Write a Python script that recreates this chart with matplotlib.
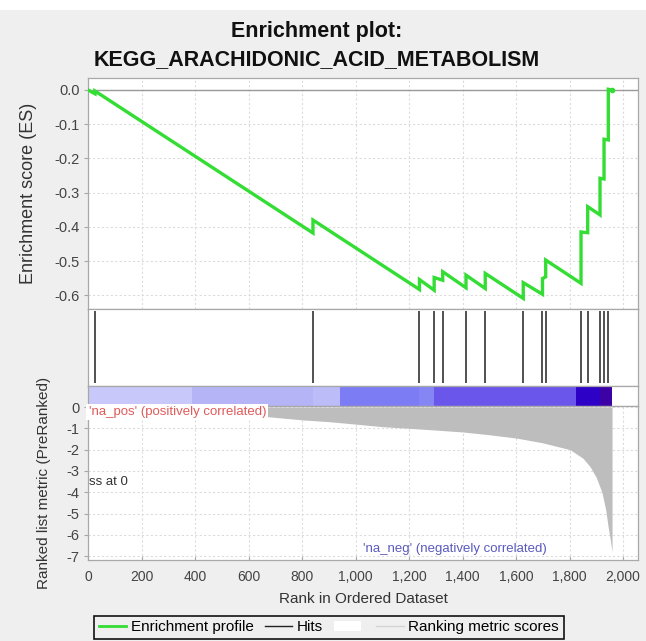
import matplotlib.pyplot as plt
from matplotlib.lines import Line2D
from matplotlib.patches import Patch, Rectangle
from matplotlib.ticker import FuncFormatter

plt.rcParams["font.family"] = ["Liberation Sans", "DejaVu Sans"]
plt.rcParams["axes.unicode_minus"] = False

title_top = "Enrichment plot:"
title_bottom = "KEGG_ARACHIDONIC_ACID_METABOLISM"

# hits of the gene set in the ranked list, with ES just before / after each hit
hit_ranks = [26, 841, 1239, 1294, 1326, 1413, 1485, 1627, 1699, 1711,
             1843, 1868, 1914, 1929, 1945]
es_before_hit = [-0.011, -0.418, -0.583, -0.585, -0.556, -0.578, -0.580,
                 -0.609, -0.597, -0.546, -0.565, -0.417, -0.365, -0.260, -0.146]
es_after_hit = [-0.003, -0.380, -0.554, -0.548, -0.531, -0.541, -0.536,
                -0.563, -0.551, -0.497, -0.415, -0.341, -0.258, -0.144, 0.002]
last_rank = 1959
es_last = 0.0

# ranked list metric (all below zero)
metric_ranks = [0, 300, 670, 800, 905, 1000, 1100, 1204, 1300, 1402, 1500,
                1604, 1700, 1802, 1850, 1877, 1900, 1921, 1935, 1944, 1952, 1959]
metric_values = [-0.2, -0.3, -0.45, -0.6, -0.69, -0.8, -0.92, -1.0, -1.08,
                 -1.17, -1.3, -1.46, -1.68, -2.0, -2.4, -2.8, -3.3, -4.0,
                 -4.8, -5.6, -6.2, -6.8]

# colour band boundaries along the ranked list
band_edges = [0, 388, 841, 942, 1239, 1294, 1823, 1914, 1959]
band_colors = ["#c8c8fa", "#b4b4f7", "#bcbcf8", "#7c7cf4", "#8585f3",
               "#6a56ea", "#2e02c6", "#3c02a6"]

x_ticks = list(range(0, 2001, 200))
es_ticks = [0.0, -0.1, -0.2, -0.3, -0.4, -0.5, -0.6]
metric_ticks = [0, -1, -2, -3, -4, -5, -6, -7]

bg = "#efefef"
spine_col = "#a8a8a8"
grid_col = "#dcdcdc"
tick_col = "#444444"

fig = plt.figure(figsize=(6.46, 6.41), dpi=100, facecolor=bg)
fig.patches.append(Rectangle((0, 1 - 10 / 641), 1, 10 / 641, transform=fig.transFigure,
                             facecolor="white", edgecolor="none", zorder=0))

left, width = 88 / 646, 550 / 646
ax_es = fig.add_axes([left, 332 / 641, width, 231 / 641])
ax_hits = fig.add_axes([left, 255 / 641, width, 77 / 641])
ax_bar = fig.add_axes([left, 235 / 641, width, 20 / 641])
ax_met = fig.add_axes([left, 81 / 641, width, 154 / 641])

xmax = 2056
for ax in (ax_es, ax_hits, ax_bar, ax_met):
    ax.set_xlim(0, xmax)
    for s in ax.spines.values():
        s.set_color(spine_col)
        s.set_linewidth(0.9)

# enrichment profile
xs, ys = [0], [0.0]
for r, b, a in zip(hit_ranks, es_before_hit, es_after_hit):
    xs += [r, r]
    ys += [b, a]
xs.append(last_rank)
ys.append(es_last)
ax_es.plot(xs, ys, color="#33dd33", lw=2.4, solid_joinstyle="miter", zorder=3)
ax_es.plot([last_rank], [es_last], "o", color="#33dd33", ms=3, zorder=3)
ax_es.axhline(0, color="#9a9a9a", lw=1, zorder=2)
ax_es.set_ylim(-0.640, 0.035)
ax_es.set_yticks(es_ticks)
ax_es.set_yticklabels([f"{v:.1f}" for v in es_ticks])
ax_es.set_xticks(x_ticks)
ax_es.tick_params(axis="x", length=0, labelbottom=False)
ax_es.tick_params(axis="y", length=3, color=spine_col, labelsize=10.5,
                  labelcolor=tick_col, pad=3)
ax_es.grid(True, color=grid_col, lw=0.8, ls=(0, (2, 2)))
ax_es.set_axisbelow(True)
ax_es.set_ylabel("Enrichment score (ES)", fontsize=13, color="#333333")
ax_es.yaxis.set_label_coords(-0.093, 0.5)

# hits
ax_hits.vlines(hit_ranks, 0.04, 0.97, color="#333333", lw=1.2)
ax_hits.set_ylim(0, 1)
ax_hits.set_xticks([])
ax_hits.set_yticks([])

# colour band
for i, c in enumerate(band_colors):
    ax_bar.axvspan(band_edges[i], band_edges[i + 1], color=c, lw=0)
ax_bar.set_ylim(0, 1)
ax_bar.set_xticks([])
ax_bar.set_yticks([])

# ranked list metric
ax_met.fill_between(metric_ranks, metric_values, 0, color="#bdbdbd", lw=0, zorder=2)
ax_met.set_ylim(-7.18, 0.05)
ax_met.set_yticks(metric_ticks)
ax_met.set_xticks(x_ticks)
ax_met.xaxis.set_major_formatter(FuncFormatter(lambda v, p: f"{int(v):,}"))
ax_met.tick_params(axis="x", direction="in", length=3, color=spine_col,
                   labelsize=10, labelcolor=tick_col, pad=7)
ax_met.tick_params(axis="y", length=3, color=spine_col, labelsize=10.5,
                   labelcolor=tick_col, pad=3)
ax_met.grid(True, color=grid_col, lw=0.8, ls=(0, (2, 2)))
ax_met.set_axisbelow(True)
ax_met.set_ylabel("Ranked list metric (PreRanked)", fontsize=11, color="#333333")
ax_met.yaxis.set_label_coords(-0.067, 0.5)
ax_met.set_xlabel("Rank in Ordered Dataset", fontsize=11, color="#333333", labelpad=6)

ax_met.text(2, -0.23, "'na_pos' (positively correlated)", color="#e05a5a",
            fontsize=9.5, ha="left", va="center", zorder=4,
            bbox=dict(facecolor="white", edgecolor="none", pad=1.5))
ax_met.text(1028, -6.67, "'na_neg' (negatively correlated)", color="#5a5abf",
            fontsize=9.5, ha="left", va="center", zorder=4)
ax_met.text(2, -3.52, "ss at 0", color="#333333", fontsize=9.5,
            ha="left", va="center", zorder=4)

fig.text(316.5 / 646, 1 - 32 / 641, title_top, ha="center", va="center",
         fontsize=15.5, fontweight="bold", color="#111111")
fig.text(316.5 / 646, 1 - 60 / 641, title_bottom, ha="center", va="center",
         fontsize=15.5, fontweight="bold", color="#111111")

handles = [Line2D([], [], color="#33dd33", lw=2),
           Line2D([], [], color="#222222", lw=1),
           Patch(facecolor="white", edgecolor="none"),
           Line2D([], [], color="#d4d4d4", lw=1)]
labels = ["Enrichment profile", "Hits", "", "Ranking metric scores"]
leg = fig.legend(handles, labels, loc="upper center",
                 bbox_to_anchor=(329 / 646, 33 / 641), ncol=4, fontsize=11,
                 frameon=True, fancybox=False, edgecolor="#111111",
                 facecolor=bg, framealpha=1, handlelength=1.8,
                 handletextpad=0.3, columnspacing=0.7, borderpad=0.3)
leg.get_frame().set_linewidth(1.2)

fig.savefig("out.png", dpi=100, facecolor=fig.get_facecolor())
